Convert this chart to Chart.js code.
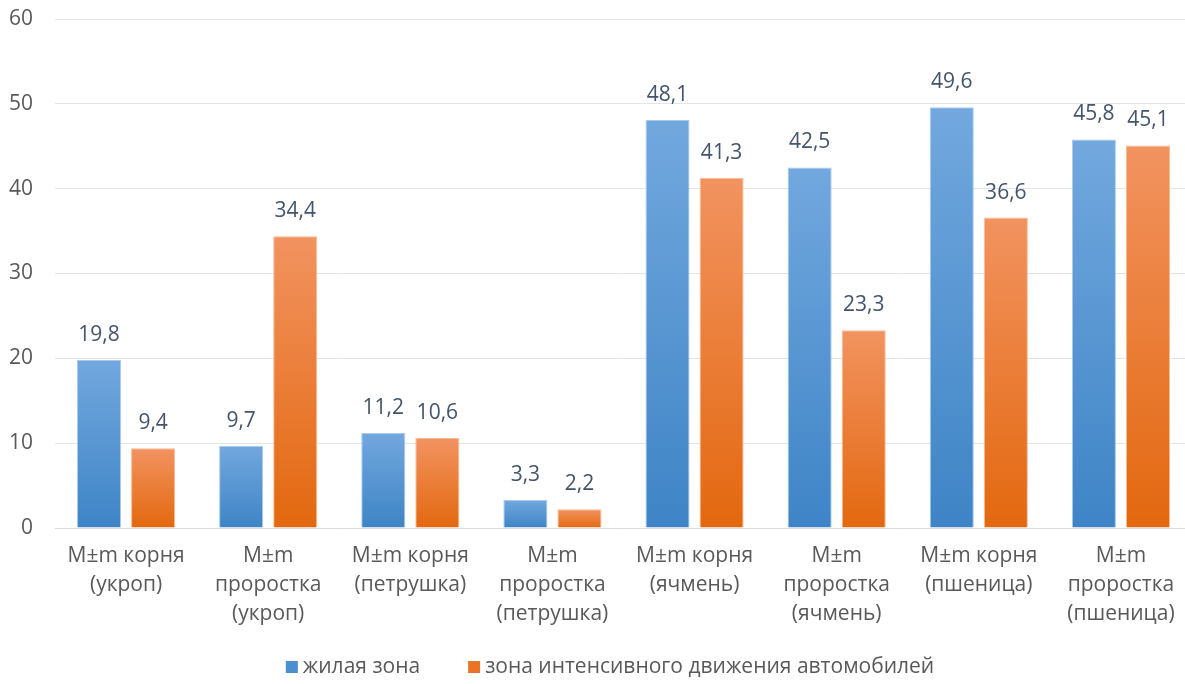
<!DOCTYPE html>
<html>
<head>
<meta charset="utf-8">
<script src="https://cdn.jsdelivr.net/npm/chart.js@4/dist/chart.umd.min.js"></script>
<style>
html,body{margin:0;padding:0;background:#fff;}
#wrap{width:1185px;height:684px;position:relative;}
</style>
</head>
<body>
<div id="wrap"><canvas id="c" width="1185" height="684"></canvas></div>
<script>
const categories = [
  ["M±m корня", "(укроп)"],
  ["M±m", "проростка", "(укроп)"],
  ["M±m корня", "(петрушка)"],
  ["M±m", "проростка", "(петрушка)"],
  ["M±m корня", "(ячмень)"],
  ["M±m", "проростка", "(ячмень)"],
  ["M±m корня", "(пшеница)"],
  ["M±m", "проростка", "(пшеница)"]
];
const seriesNames = ["жилая зона", "зона интенсивного движения автомобилей"];
const residential = [19.8, 9.7, 11.2, 3.3, 48.1, 42.5, 49.6, 45.8];
const traffic = [9.4, 34.4, 10.6, 2.2, 41.3, 23.3, 36.6, 45.1];
const yTicks = [0, 10, 20, 30, 40, 50, 60];

const FONT = "'Open Sans', sans-serif";
const TEXT = '#595959';

// plot frame (pixels)
const FRAME = { left: 55, top: 19, right: 1192, bottom: 528 };

function barGradient(top, bottom, solid) {
  return function(ctx) {
    const chart = ctx.chart;
    const y = chart.scales && chart.scales.y;
    if (!y || ctx.type !== 'data' || !chart.chartArea) return solid;
    const yTop = y.getPixelForValue(ctx.raw);
    const yBot = y.getPixelForValue(0);
    if (!isFinite(yTop) || !isFinite(yBot) || yTop === yBot) return solid;
    const g = chart.ctx.createLinearGradient(0, yTop, 0, yBot);
    g.addColorStop(0, top);
    g.addColorStop(1, bottom);
    return g;
  };
}

const fixFrame = {
  id: 'fixFrame',
  afterLayout(chart) {
    const a = chart.chartArea;
    a.left = FRAME.left; a.top = FRAME.top; a.right = FRAME.right; a.bottom = FRAME.bottom;
    a.width = a.right - a.left; a.height = a.bottom - a.top;
    const x = chart.scales.x, y = chart.scales.y;
    const xh = x.bottom - x.top;
    x.left = a.left; x.right = a.right; x.width = a.width;
    x.top = a.bottom; x.bottom = a.bottom + xh;
    y.top = a.top; y.bottom = a.bottom; y.height = a.height;
    y.left = 0; y.right = a.left; y.width = a.left;
    x.configure(); y.configure();
  }
};

const valueLabels = {
  id: 'valueLabels',
  afterDatasetsDraw(chart) {
    const ctx = chart.ctx;
    ctx.save();
    ctx.font = "21px " + FONT;
    ctx.fillStyle = "#44546a";
    ctx.textAlign = "center";
    ctx.textBaseline = "alphabetic";
    chart.data.datasets.forEach((ds, i) => {
      const meta = chart.getDatasetMeta(i);
      meta.data.forEach((el, j) => {
        const txt = String(ds.data[j]).replace('.', ',');
        ctx.fillText(txt, el.x, el.y - 19);
      });
    });
    ctx.restore();
  }
};

const legendFills = ['#4a8fd0', '#ea7425'];
const bottomLegend = {
  id: 'bottomLegend',
  afterDraw(chart) {
    const ctx = chart.ctx;
    ctx.save();
    ctx.font = "21px " + FONT;
    ctx.textBaseline = "middle";
    ctx.textAlign = "left";
    const box = 12, gapText = 5, gapItem = 48, cy = 667;
    const items = chart.data.datasets.map((ds, i) => ({
      text: ds.label, color: legendFills[i], w: box + gapText + ctx.measureText(ds.label).width
    }));
    const total = items.reduce((s, it) => s + it.w, 0) + gapItem * (items.length - 1);
    let x = 610 - total / 2;
    items.forEach(it => {
      ctx.fillStyle = it.color;
      ctx.fillRect(x, cy - box / 2, box, box);
      ctx.fillStyle = TEXT;
      ctx.fillText(it.text, x + box + gapText, cy);
      x += it.w + gapItem;
    });
    ctx.restore();
  }
};

new Chart(document.getElementById('c'), {
  type: 'bar',
  data: {
    labels: categories,
    datasets: [
      {
        label: seriesNames[0],
        data: residential,
        backgroundColor: barGradient('#72a8de', '#3e84c6', '#5b9bd5'),
        borderColor: 'rgba(160,196,234,0.9)',
        borderWidth: 1,
        categoryPercentage: 0.761,
        barPercentage: 0.815
      },
      {
        label: seriesNames[1],
        data: traffic,
        backgroundColor: barGradient('#f29360', '#e3680f', '#ed7d31'),
        borderColor: 'rgba(247,178,135,0.9)',
        borderWidth: 1,
        categoryPercentage: 0.761,
        barPercentage: 0.815
      }
    ]
  },
  options: {
    responsive: false,
    animation: false,
    devicePixelRatio: 1,
    layout: { padding: { top: 5, right: 0, left: 0, bottom: 56 } },
    plugins: {
      tooltip: { enabled: false },
      legend: { display: false }
    },
    scales: {
      x: {
        afterFit(axis) { axis.height = 100; },
        grid: { display: false, drawTicks: false },
        border: { display: true, color: '#d9dde3', width: 1 },
        ticks: {
          font: { family: FONT, size: 21, lineHeight: 1.38 },
          color: TEXT,
          padding: 14,
          maxRotation: 0,
          autoSkip: false
        }
      },
      y: {
        min: 0,
        max: 60,
        afterFit(axis) { axis.width = 55; },
        afterBuildTicks(axis) { axis.ticks = yTicks.map(v => ({ value: v })); },
        grid: { color: '#e1e5eb', lineWidth: 1, drawTicks: false },
        border: { display: false },
        ticks: {
          font: { family: FONT, size: 21 },
          color: TEXT,
          padding: 22
        }
      }
    }
  },
  plugins: [fixFrame, valueLabels, bottomLegend]
});
</script>
</body>
</html>
